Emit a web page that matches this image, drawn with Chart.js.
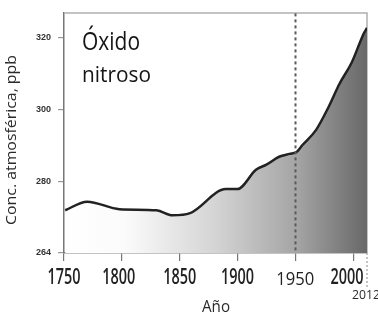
<!DOCTYPE html>
<html>
<head>
<meta charset="utf-8">
<script src="https://cdn.jsdelivr.net/npm/chart.js@4"></script>
<style>
html,body{margin:0;padding:0;background:#fff;}
canvas{display:block;}
</style>
</head>
<body>
<canvas id="c" width="378" height="317"></canvas>
<script>
// Data
const years = [1751, 1770, 1798, 1830, 1844, 1859, 1890, 1900, 1916, 1925, 1936, 1945, 1951, 1956, 1968, 1979, 1988, 1999, 2009, 2012];
const n2o   = [271.9, 274.3, 272.2, 271.9, 270.5, 271.1, 277.8, 277.8, 283.2, 284.6, 286.8, 287.6, 288.1, 290.0, 294.3, 300.8, 307.0, 313.2, 321.0, 322.7];
const yTickValues = [260, 280, 300, 320];
const yTickLabels = ["264", "280", "300", "320"];
const xTickValues = [1750, 1800, 1850, 1900, 1950, 2000];
const xTickLabels = ["1750", "1800", "1850", "1900", "1950", "2000"];
const markerYear = 1950;
const titleLines = ["Óxido", "nitroso"];
const yTitle = "Conc. atmosférica, ppb";
const xTitle = "Año";
const endLabel = "2012";

const SANS = '"Open Sans", "Noto Sans", sans-serif';

const points = years.map((x, i) => ({x: x, y: n2o[i]}));

// draw text squeezed to a target width, centred (or left aligned) at (x, y)
function fitText(ctx, text, x, y, font, width, align) {
  ctx.save();
  ctx.font = font;
  const w = ctx.measureText(text).width;
  const s = width / w;
  ctx.translate(x, y);
  ctx.scale(s, 1);
  ctx.textAlign = align || 'center';
  ctx.fillText(text, 0, 0);
  ctx.restore();
}

const decor = {
  id: 'decor',
  beforeDatasetsDraw(chart) {
    const {ctx, chartArea: a} = chart;
    ctx.save();
    ctx.strokeStyle = '#b0b0b0';
    ctx.lineWidth = 1.5;
    ctx.beginPath();
    ctx.moveTo(a.left, a.top + 0.5);
    ctx.lineTo(a.right, a.top + 0.5);
    ctx.lineTo(a.right, a.bottom);
    ctx.stroke();
    ctx.setLineDash([2, 2]);
    ctx.beginPath();
    ctx.moveTo(a.right, a.bottom);
    ctx.lineTo(a.right, a.bottom + 36);
    ctx.stroke();
    ctx.restore();
  },
  afterDatasetsDraw(chart) {
    const {ctx, chartArea: a, scales: {x}} = chart;
    ctx.save();
    const px = Math.round(x.getPixelForValue(markerYear)) + 0.5;
    ctx.strokeStyle = '#5a5a5a';
    ctx.lineWidth = 2;
    ctx.setLineDash([3, 3]);
    ctx.beginPath();
    ctx.moveTo(px, a.top + 1);
    ctx.lineTo(px, a.bottom);
    ctx.stroke();
    ctx.setLineDash([]);

    // Title
    ctx.fillStyle = '#151515';
    ctx.textBaseline = 'alphabetic';
    fitText(ctx, titleLines[0], a.left + 18, 50, '25px ' + SANS, 58, 'left');
    fitText(ctx, titleLines[1], a.left + 18, 82, '21px ' + SANS, 69, 'left');

    // x tick labels
    ctx.fillStyle = '#222';
    xTickValues.forEach((v, i) => {
      let cx = x.getPixelForValue(v);
      if (v === 2000) cx -= 6;
      if (v === 1800) cx -= 3;
      if (v === markerYear) {
        fitText(ctx, xTickLabels[i], cx, 285, '18px ' + SANS, 38);
      } else {
        fitText(ctx, xTickLabels[i], cx, 284, '600 21px ' + SANS, 33);
      }
    });

    // axis titles
    ctx.fillStyle = '#2a2a2a';
    fitText(ctx, xTitle, 216, 312, '16px ' + SANS, 28);
    fitText(ctx, endLabel, 366, 299, '12px ' + SANS, 28);
    ctx.translate(16, 140);
    ctx.rotate(-Math.PI / 2);
    fitText(ctx, yTitle, 0, 0, '14px ' + SANS, 170);
    ctx.restore();
  }
};

new Chart(document.getElementById('c'), {
  type: 'line',
  data: {
    datasets: [{
      data: points,
      borderColor: '#222',
      borderWidth: 2.5,
      pointRadius: 0,
      tension: 0.35,
      cubicInterpolationMode: 'monotone',
      fill: 'start',
      backgroundColor(context) {
        const {ctx, chartArea} = context.chart;
        if (!chartArea) return '#ccc';
        const g = ctx.createLinearGradient(chartArea.left, 0, chartArea.right, 0);
        g.addColorStop(0, '#ffffff');
        g.addColorStop(0.2, '#fbfbfb');
        g.addColorStop(0.5, '#d4d4d4');
        g.addColorStop(0.77, '#a4a4a4');
        g.addColorStop(1, '#686868');
        return g;
      }
    }]
  },
  options: {
    responsive: false,
    animation: false,
    layout: {padding: {top: 7, right: 11, left: 0, bottom: 0}},
    plugins: {legend: {display: false}, tooltip: {enabled: false}},
    scales: {
      x: {
        type: 'linear',
        min: 1750,
        max: 2012,
        afterBuildTicks(scale) { scale.ticks = xTickValues.map(v => ({value: v})); },
        afterFit(scale) { scale.height = 64; },
        border: {color: '#888', width: 1.5},
        grid: {drawOnChartArea: false, drawTicks: true, tickLength: 8, color: '#777', lineWidth: 1.2},
        ticks: {display: false}
      },
      y: {
        min: 260,
        max: 327,
        afterBuildTicks(scale) { scale.ticks = yTickValues.map(v => ({value: v})); },
        afterFit(scale) { scale.width = 64; },
        border: {color: '#777', width: 1.5},
        grid: {drawOnChartArea: false, drawTicks: true, tickLength: 6, color: '#999', lineWidth: 1.2},
        ticks: {
          padding: 7,
          color: '#333',
          font: {family: '"Liberation Sans", sans-serif', size: 9, weight: 'bold'},
          callback(v) { const i = yTickValues.indexOf(v); return i >= 0 ? yTickLabels[i] : ''; }
        }
      }
    }
  },
  plugins: [decor]
});
</script>
</body>
</html>
